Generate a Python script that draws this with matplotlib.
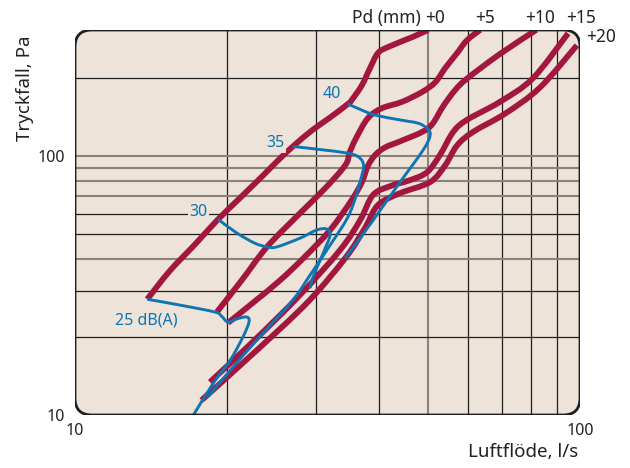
import matplotlib
matplotlib.use("Agg")
import numpy as np
import matplotlib.pyplot as plt
from matplotlib.patches import FancyBboxPatch, PathPatch
from matplotlib.path import Path
from matplotlib.ticker import NullLocator

plt.rcParams['font.family'] = ['Noto Sans', 'DejaVu Sans']

# ---- data ----
pd_labels = ['+0', '+5', '+10', '+15', '+20']

pd0_x = [13.9, 15.4, 17.3, 19.2, 21.2, 23.5, 25.5, 27.3, 29.5, 32.0, 34.7, 35.3, 37.0, 38.4, 39.8, 41.7, 46.5, 50.0]
pd0_y = [28.0, 36.0, 45.7, 57.0, 68.8, 83.7, 98.2, 111, 126, 141, 159, 164.5, 188, 219, 250, 264, 288, 307]

pd5_x = [19.1, 21.4, 24.0, 27.9, 31.3, 34.3, 35.0, 36.0, 38.0, 40.5, 44.4, 48.7, 51.7, 54.1, 57.1, 59.7, 63.4]
pd5_y = [25.0, 33.2, 44.6, 60.2, 75.2, 92.3, 103.6, 117, 140, 153, 162, 177, 193, 219, 250, 280, 307]

pd10_x = [20.1, 22.7, 25.5, 28.5, 32.0, 35.3, 37.0, 38.0, 39.3, 41.1, 44.0, 48.7, 51.0, 53.6, 56.6, 59.7, 69.4, 81.9]
pd10_y = [22.7, 27.5, 33.2, 40.8, 51.8, 67.6, 79.4, 91.5, 101, 108, 114, 124, 133, 156, 180, 199, 248, 307]

pd15_x = [18.5, 22.7, 27.9, 33.5, 36.7, 38.9, 42.1, 46.1, 49.8, 52.8, 56.1, 59.7, 69.4, 80.7, 94.7]
pd15_y = [13.4, 19.5, 29.1, 43.4, 56.6, 70.7, 76.6, 80.8, 86.7, 101, 124, 138, 162, 200, 298]

pd20_x = [17.8, 22.7, 28.9, 34.3, 37.5, 39.8, 44.0, 50.5, 54.1, 57.1, 61.4, 71.1, 83.3, 98.6]
pd20_y = [11.4, 17.5, 27.3, 40.4, 52.7, 64.7, 71.9, 79.4, 92.3, 110, 124, 146, 184, 268]

db_labels = ['25 dB(A)', '30', '35', '40']

db25_x = [13.9, 16.1, 18.9, 19.5, 20.1, 20.9, 21.9, 22.1, 21.5, 20.3, 18.8, 17.05]
db25_y = [28.0, 26.6, 25.0, 24.1, 22.8, 23.5, 23.9, 22.8, 20.0, 16.3, 13.3, 9.8]

db30_x = [19.2, 20.9, 22.7, 24.0, 25.1, 27.9, 30.1, 31.5, 32.0, 31.0, 29.6, 29.2]
db30_y = [57.0, 50.5, 46.1, 44.6, 44.6, 48.2, 51.8, 52.3, 49.5, 42.2, 34.1, 30.9]

db35_x = [27.0, 30.6, 34.3, 36.2, 37.2, 37.0, 35.0, 32.0, 29.2, 27.0, 23.2, 20.3, 18.3]
db35_y = [109, 106, 103, 100, 94, 84.5, 60.2, 45.3, 34.7, 27.8, 20.0, 14.9, 11.7]

db40_x = [34.7, 37.0, 39.3, 44.0, 47.8, 49.8, 50.5, 48.9, 43.6, 38.7, 34.3]
db40_y = [159, 150.5, 144, 138, 134, 128, 120.5, 105.5, 77.3, 55.6, 40.4]

x_grid = [20, 30, 40, 50, 60, 70, 80, 90]
y_grid = [20, 30, 40, 50, 60, 70, 80, 90, 100, 200]
x_grid_grey = [50]
y_grid_grey = [40, 70, 80, 90, 100]

x_ticks = [10, 100]
y_ticks = [10, 100]

# ---- style ----
CRIMSON = '#A2163F'
BLUE = '#0E75B2'
BG = '#EEE3D9'
GREY = '#8a837b'
DARK = '#1e1e1e'

W, H = 630, 468
L, R, T, B = 75, 580, 30, 415


def smooth_path(xs, ys):
    """Catmull-Rom through the read points, as cubic Bezier segments in log space."""
    p = np.column_stack([np.log10(xs), np.log10(ys)])
    n = len(p)
    verts = [p[0]]
    codes = [Path.MOVETO]
    for i in range(n - 1):
        p0 = p[i - 1] if i > 0 else p[i]
        p1, p2 = p[i], p[i + 1]
        p3 = p[i + 2] if i + 2 < n else p[i + 1]
        c1 = p1 + (p2 - p0) / 6.0
        c2 = p2 - (p3 - p1) / 6.0
        verts += [c1, c2, p2]
        codes += [Path.CURVE4] * 3
    return Path(10 ** np.array(verts), codes)


fig = plt.figure(figsize=(W / 100, H / 100), dpi=100)
ax = fig.add_axes([L / W, 1 - B / H, (R - L) / W, (B - T) / H])
ax.set_xscale('log')
ax.set_yscale('log')
ax.set_xlim(10, 100)
ax.set_ylim(10, 307)
ax.patch.set_visible(False)
for s in ax.spines.values():
    s.set_visible(False)

rad = 17 / (R - L)
asp = (R - L) / (B - T)
bg = FancyBboxPatch((0, 0), 1, 1, boxstyle=f"round,pad=0,rounding_size={rad}",
                    mutation_aspect=asp, transform=ax.transAxes,
                    facecolor=BG, edgecolor='none', zorder=0)
ax.add_patch(bg)
border = FancyBboxPatch((0, 0), 1, 1, boxstyle=f"round,pad=0,rounding_size={rad}",
                        mutation_aspect=asp, transform=ax.transAxes,
                        facecolor='none', edgecolor=DARK, lw=2.0, zorder=6)
ax.add_patch(border)

for xv in x_grid:
    grey = xv in x_grid_grey
    ln = ax.axvline(xv, color=GREY if grey else DARK, lw=1.5 if grey else 0.9, zorder=1)
    ln.set_clip_path(bg)
for yv in y_grid:
    grey = yv in y_grid_grey
    ln = ax.axhline(yv, color=GREY if grey else DARK, lw=1.5 if grey else 0.9, zorder=1)
    ln.set_clip_path(bg)

for xs, ys in [(pd0_x, pd0_y), (pd5_x, pd5_y), (pd10_x, pd10_y), (pd15_x, pd15_y), (pd20_x, pd20_y)]:
    pp = PathPatch(smooth_path(xs, ys), facecolor='none', edgecolor=CRIMSON, lw=4.2,
                   capstyle='butt', joinstyle='round', zorder=3, transform=ax.transData)
    ax.add_patch(pp)
    pp.set_clip_path(bg)

for xs, ys in [(db25_x, db25_y), (db30_x, db30_y), (db35_x, db35_y), (db40_x, db40_y)]:
    pp = PathPatch(smooth_path(xs, ys), facecolor='none', edgecolor=BLUE, lw=2.1,
                   capstyle='butt', joinstyle='round', zorder=4, transform=ax.transData)
    ax.add_patch(pp)
    pp.set_clip_path(bg)

# dB labels
lab_pos = [(0.141, 0.245), (0.245, 0.527), (0.396, 0.706), (0.509, 0.834)]
for txt, (px, py) in zip(db_labels, lab_pos):
    ax.text(px, py, txt, transform=ax.transAxes, color=BLUE, fontsize=11.5, fontweight='bold',
            ha='center', va='center', zorder=5,
            bbox=dict(boxstyle='square,pad=0.1', facecolor=BG, edgecolor='none'))

# Pd labels
fig.text(421 / W, 1 - 18 / H, 'Pd (mm)', ha='right', va='center', fontsize=12.5, color='#222')
pd_pos = [(435, 18), (485, 18), (540, 18), (581, 18), (601, 37)]
for txt, (px, py) in zip(pd_labels, pd_pos):
    fig.text(px / W, 1 - py / H, txt, ha='center', va='center', fontsize=12.5, color='#222')

ax.set_xticks(x_ticks)
ax.set_xticklabels([str(v) for v in x_ticks])
ax.set_yticks(y_ticks)
ax.set_yticklabels([str(v) for v in y_ticks])
ax.xaxis.set_minor_locator(NullLocator())
ax.yaxis.set_minor_locator(NullLocator())
ax.tick_params(length=0, labelsize=11.5, colors='#222')
ax.tick_params(axis='x', pad=6)
ax.tick_params(axis='y', pad=7)

fig.text(25 / W, 1 - 88 / H, 'Tryckfall, Pa', rotation=90, ha='center', va='center',
         fontsize=13.5, fontweight='bold', color='#222')
fig.text(578 / W, 1 - 452 / H, 'Luftflöde, l/s', ha='right', va='center',
         fontsize=13.5, fontweight='bold', color='#222')

fig.savefig('out.png', dpi=100)
